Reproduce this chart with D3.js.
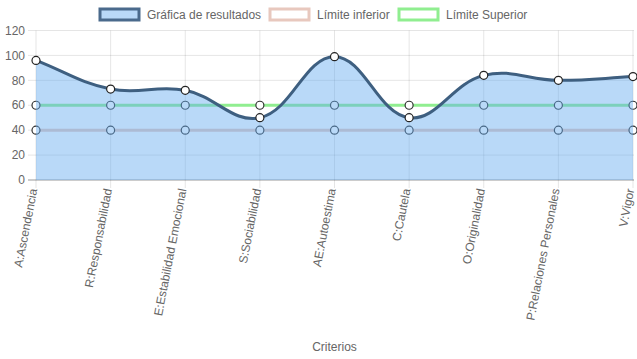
<!DOCTYPE html>
<html><head><meta charset="utf-8">
<script src="https://cdn.jsdelivr.net/npm/d3@7/dist/d3.min.js"></script>
<style>
html,body{margin:0;padding:0;background:#fff;}
svg{display:block;font-family:"Liberation Sans",Arial,Helvetica,sans-serif;}
</style></head>
<body><svg id="chart" width="637" height="359"></svg>
<script>
const categories = ["A:Ascendencia","R:Responsabilidad","E:Estabilidad Emocional","S:Sociabilidad","AE:Autoestima","C:Cautela","O:Originalidad","P:Relaciones Personales","V:Vigor"];
const resultados = [96, 73, 72, 50, 99, 50, 84, 80, 83];
const limiteInferior = [40, 40, 40, 40, 40, 40, 40, 40, 40];
const limiteSuperior = [60, 60, 60, 60, 60, 60, 60, 60, 60];
const yTicks = [0, 20, 40, 60, 80, 100, 120];
const seriesNames = ["Gráfica de resultados", "Límite inferior", "Límite Superior"];
const xTitle = "Criterios";

(function () {
const svg = d3.select("#chart");
const pLeft = 36, pRight = 633, pTop = 30.5, pBottom = 180;
const x = d3.scalePoint().domain(categories).range([pLeft, pRight]);
const y = d3.scaleLinear().domain([0, 120]).range([pBottom, pTop]);
const txt = "#666";

// grid
const g = svg.append("g");
yTicks.forEach(t => {
  g.append("line").attr("x1", pLeft - 8).attr("x2", pRight + 1)
    .attr("y1", y(t)).attr("y2", y(t))
    .attr("stroke", t === 0 ? "rgba(0,0,0,0.2)" : "rgba(0,0,0,0.1)").attr("stroke-width", t === 0 ? 2 : 1);
  g.append("text").attr("x", 25).attr("y", y(t)).attr("dy", "0.35em")
    .attr("text-anchor", "end").attr("fill", txt).attr("font-size", 12).text(t);
});
categories.forEach(c => {
  g.append("line").attr("x1", x(c)).attr("x2", x(c))
    .attr("y1", pTop).attr("y2", pBottom + 8)
    .attr("stroke", "rgba(0,0,0,0.1)").attr("stroke-width", 1);
  g.append("text")
    .attr("transform", `translate(${x(c) - 1},${pBottom + 9}) rotate(-79)`)
    .attr("dy", "0.2em").attr("text-anchor", "end")
    .attr("fill", txt).attr("font-size", 12).text(c);
});
svg.append("text").attr("x", (pLeft + pRight) / 2).attr("y", 351)
  .attr("text-anchor", "middle").attr("fill", txt).attr("font-size", 12).text(xTitle);

// Chart.js-like spline
function splinePath(pts, tension) {
  const n = pts.length;
  const cps = pts.map((p, i) => {
    const prev = pts[Math.max(0, i - 1)], next = pts[Math.min(n - 1, i + 1)];
    const d01 = Math.hypot(p[0] - prev[0], p[1] - prev[1]);
    const d12 = Math.hypot(next[0] - p[0], next[1] - p[1]);
    let s01 = d01 / (d01 + d12), s12 = d12 / (d01 + d12);
    if (!isFinite(s01)) s01 = 0; if (!isFinite(s12)) s12 = 0;
    const fa = tension * s01, fb = tension * s12;
    return {
      pcx: p[0] - fa * (next[0] - prev[0]), pcy: p[1] - fa * (next[1] - prev[1]),
      ncx: p[0] + fb * (next[0] - prev[0]), ncy: p[1] + fb * (next[1] - prev[1])
    };
  });
  const path = d3.path();
  path.moveTo(pts[0][0], pts[0][1]);
  for (let i = 1; i < n; i++) {
    path.bezierCurveTo(cps[i - 1].ncx, cps[i - 1].ncy, cps[i].pcx, cps[i].pcy, pts[i][0], pts[i][1]);
  }
  return path.toString();
}

function drawLimit(vals, color) {
  const line = d3.line().x((d, i) => x(categories[i])).y(d => y(d));
  svg.append("path").attr("d", line(vals)).attr("fill", "none")
    .attr("stroke", color).attr("stroke-width", 3);
  svg.selectAll(null).data(vals).enter().append("circle")
    .attr("cx", (d, i) => x(categories[i])).attr("cy", d => y(d)).attr("r", 4)
    .attr("fill", "#fff").attr("stroke", "#333").attr("stroke-width", 1.2);
}
drawLimit(limiteSuperior, "rgb(144,238,144)");
drawLimit(limiteInferior, "rgb(232,200,190)");

const pts = resultados.map((v, i) => [x(categories[i]), y(v)]);
const curve = splinePath(pts, 0.4);
svg.append("path")
  .attr("d", curve + `L${x(categories[categories.length - 1])},${y(0)}L${x(categories[0])},${y(0)}Z`)
  .attr("fill", "rgba(100,170,240,0.45)").attr("stroke", "none");
svg.append("path").attr("d", curve).attr("fill", "none")
  .attr("stroke", "#3e5f80").attr("stroke-width", 3);
svg.selectAll(null).data(resultados).enter().append("circle")
  .attr("cx", (d, i) => x(categories[i])).attr("cy", d => y(d)).attr("r", 4)
  .attr("fill", "#fff").attr("stroke", "#222").attr("stroke-width", 1.2);

// legend
const legend = [
  {name: seriesNames[0], fill: "rgb(185,217,248)", stroke: "#4a6a8c", x: 100},
  {name: seriesNames[1], fill: "#fff", stroke: "rgb(232,200,190)", x: 270},
  {name: seriesNames[2], fill: "#fff", stroke: "rgb(144,238,144)", x: 399}
];
legend.forEach(l => {
  svg.append("rect").attr("x", l.x).attr("y", 9).attr("width", 39).attr("height", 11)
    .attr("fill", l.fill).attr("stroke", l.stroke).attr("stroke-width", 3);
  svg.append("text").attr("x", l.x + 47).attr("y", 15).attr("dy", "0.35em")
    .attr("fill", txt).attr("font-size", 12).text(l.name);
});
})();
</script></body></html>
